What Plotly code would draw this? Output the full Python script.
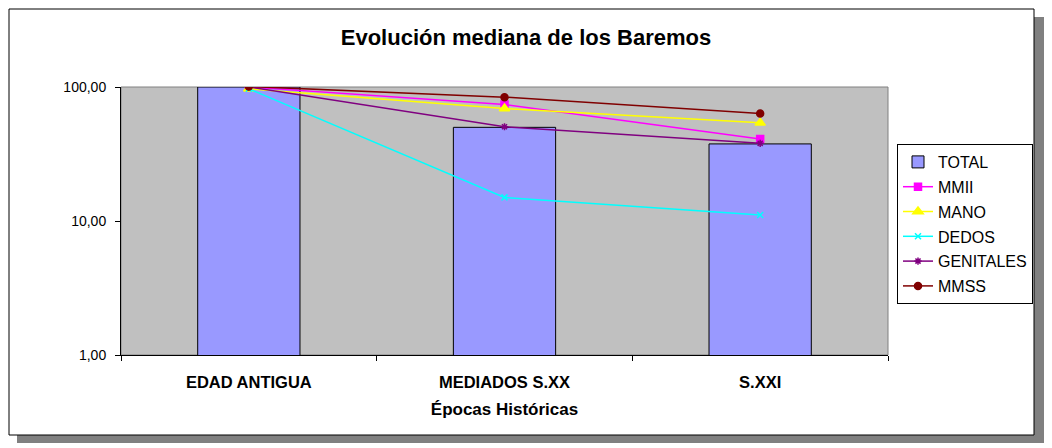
import plotly.graph_objects as go

epocas = ["EDAD ANTIGUA", "MEDIADOS S.XX", "S.XXI"]
total = [100, 50, 37.6]
mmii = [100, 74, 41]
mano = [97, 69, 54]
dedos = [97, 15, 11.1]
genitales = [100, 50.5, 38]
mmss = [101, 84, 63.5]

font = "Liberation Sans, Arial, sans-serif"

# plot area in pixels: x 121-888, y 87-355
L, R, T, B = 121, 888, 87, 355
W, H = 1052, 448


def px(x):
    return (x - L) / (R - L)


def py(y):
    return (B - y) / (B - T)


fig = go.Figure()
fig.add_trace(
    go.Bar(
        x=epocas,
        y=total,
        name="TOTAL",
        legendgroup="TOTAL",
        marker=dict(color="#9999FF", line=dict(color="#000000", width=1)),
    )
)

series = [
    ("MMII", mmii, "#FF00FF", "square", 7),
    ("MANO", mano, "#FFFF00", "triangle-up", 9),
    ("DEDOS", dedos, "#00FFFF", "x-thin-open", 6),
    ("GENITALES", genitales, "#800080", "asterisk-open", 6),
    ("MMSS", mmss, "#800000", "circle", 7),
]
for name, vals, color, symbol, size in series:
    fig.add_trace(
        go.Scatter(
            x=epocas,
            y=vals,
            name=name,
            mode="lines+markers",
            line=dict(color=color, width=1.5),
            marker=dict(symbol=symbol, size=size, color=color,
                        line=dict(color=color, width=1.5)),
            legendgroup=name,
        )
    )

shapes = [
    # shadow
    dict(type="rect", xref="paper", yref="paper", layer="below",
         x0=px(17), x1=px(1044), y0=py(17), y1=py(443),
         fillcolor="#808080", line=dict(width=0)),
    # chart frame
    dict(type="rect", xref="paper", yref="paper", layer="below",
         x0=px(9), x1=px(1034), y0=py(9), y1=py(435),
         fillcolor="#FFFFFF", line=dict(color="#000000", width=1)),
    # plot area
    dict(type="rect", xref="paper", yref="paper", layer="below",
         x0=0, x1=1, y0=0, y1=1,
         fillcolor="#C0C0C0", line=dict(color="#808080", width=1)),
]

fig.update_layout(
    width=W,
    height=H,
    margin=dict(l=L, r=W - R, t=T, b=H - B),
    paper_bgcolor="#FFFFFF",
    plot_bgcolor="rgba(0,0,0,0)",
    font=dict(family=font, color="#000000", size=13),
    title=dict(text="<b>Evolución mediana de los Baremos</b>", x=0.5, xanchor="center",
               y=1 - 37 / H, yanchor="middle", font=dict(size=22)),
    bargap=0.6,
    shapes=shapes,
    showlegend=True,
    legend=dict(
        x=px(897), y=py(144), xanchor="left", yanchor="top",
        bgcolor="#FFFFFF", bordercolor="#000000", borderwidth=1,
        font=dict(size=16), traceorder="grouped", tracegroupgap=1,
    ),
)
fig.update_xaxes(
    type="category",
    showgrid=False,
    showline=True, linecolor="#000000", linewidth=1,
    ticks="outside", tickson="boundaries", ticklen=5, tickcolor="#000000",
    ticklabelstandoff=12,
    tickfont=dict(size=16.5, weight="bold"),
    title=dict(text="<b>Épocas Históricas</b>", font=dict(size=17), standoff=13),
)
fig.update_yaxes(
    type="log",
    range=[0, 2],
    showgrid=False,
    showline=True, linecolor="#000000", linewidth=1,
    ticks="outside", ticklen=5, tickcolor="#000000",
    ticklabelstandoff=6,
    tickvals=[1, 10, 100],
    ticktext=["1,00", "10,00", "100,00"],
    tickfont=dict(size=14),
    zeroline=False,
)

fig.write_html("out.html", config={"displayModeBar": False},
               post_script="document.body.style.margin='0';")
